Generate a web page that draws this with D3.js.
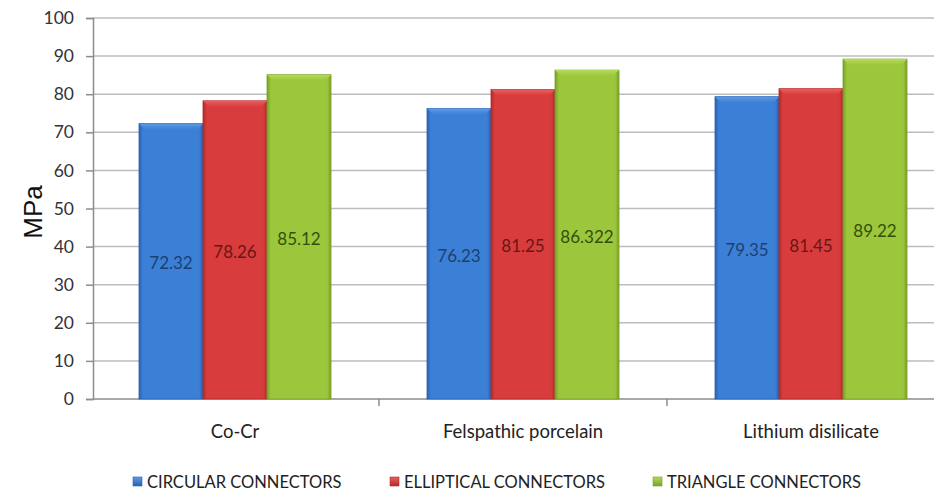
<!DOCTYPE html>
<html>
<head>
<meta charset="utf-8">
<script src="https://d3js.org/d3.v7.min.js"></script>
<style>
  body { margin: 0; background: #fff; }
  text { font-family: Lato, "Open Sans", sans-serif; }
</style>
</head>
<body>
<script>
// data
var categories = ["Co-Cr", "Felspathic porcelain", "Lithium disilicate"];
var seriesNames = ["CIRCULAR CONNECTORS", "ELLIPTICAL CONNECTORS", "TRIANGLE CONNECTORS"];
var circular = [72.32, 76.23, 79.35];
var elliptical = [78.26, 81.25, 81.45];
var triangle = [85.12, 86.322, 89.22];
var labels = [["72.32", "76.23", "79.35"], ["78.26", "81.25", "81.45"], ["85.12", "86.322", "89.22"]];
var yTicks = [0, 10, 20, 30, 40, 50, 60, 70, 80, 90, 100];

var series = [circular, elliptical, triangle];
var colors = [
  {light: "#5d9be6", mid: "#3b7fd6", dark: "#2a62b0", text: "#1d3f72"},
  {light: "#e86060", mid: "#d93c3c", dark: "#b22a2a", text: "#6a1616"},
  {light: "#b6da5a", mid: "#9cc63c", dark: "#78a028", text: "#33500c"}
];

var width = 934, height = 493;
var svg = d3.select("body").append("svg")
    .attr("width", width)
    .attr("height", height);

// bands run past the right edge, the picture is cropped there
var x0 = d3.scaleBand().domain(categories).range([91, 955]).padding(0);
var x1 = d3.scaleBand().domain(d3.range(3)).range([48, x0.bandwidth() - 48]).padding(0);
var y = d3.scaleLinear().domain([0, 100]).range([399, 18]);

var defs = svg.append("defs");
colors.forEach(function(c, i) {
  var g = defs.append("linearGradient").attr("id", "bar" + i).attr("x1", 0).attr("x2", 1).attr("y1", 0).attr("y2", 0);
  g.append("stop").attr("offset", "0%").attr("stop-color", c.dark);
  g.append("stop").attr("offset", "6%").attr("stop-color", c.mid);
  g.append("stop").attr("offset", "94%").attr("stop-color", c.mid);
  g.append("stop").attr("offset", "100%").attr("stop-color", c.dark);
  var t = defs.append("linearGradient").attr("id", "top" + i).attr("x1", 0).attr("x2", 0).attr("y1", 0).attr("y2", 1);
  t.append("stop").attr("offset", "0%").attr("stop-color", c.light);
  t.append("stop").attr("offset", "100%").attr("stop-color", c.mid);
  var l = defs.append("linearGradient").attr("id", "leg" + i).attr("x1", 0).attr("x2", 0).attr("y1", 0).attr("y2", 1);
  l.append("stop").attr("offset", "0%").attr("stop-color", c.light);
  l.append("stop").attr("offset", "100%").attr("stop-color", c.dark);
});

// gridlines
svg.append("g").selectAll("line").data(yTicks.filter(function(d) { return d > 0; })).join("line")
    .attr("x1", 93).attr("x2", width)
    .attr("y1", function(d) { return y(d); }).attr("y2", function(d) { return y(d); })
    .attr("stroke", "#bdbdbd").attr("stroke-width", 1.5);

// y axis
var yAxis = svg.append("g").attr("transform", "translate(93,0)")
    .call(d3.axisLeft(y).tickValues(yTicks).tickSize(7).tickPadding(12));
yAxis.select(".domain").attr("stroke", "#8c8c8c").attr("stroke-width", 1.5);
yAxis.selectAll(".tick line").attr("stroke", "#8c8c8c").attr("stroke-width", 1.5);
yAxis.selectAll("text").attr("fill", "#333").style("font-size", "17.5px");

// x axis
var xAxis = svg.append("g").attr("transform", "translate(0,399)")
    .call(d3.axisBottom(x0).tickSize(0).tickPadding(26));
xAxis.select(".domain").remove();
xAxis.selectAll("text").attr("fill", "#222").style("font-size", "18.5px");
svg.append("line").attr("x1", 93).attr("x2", width).attr("y1", 399).attr("y2", 399)
    .attr("stroke", "#8c8c8c").attr("stroke-width", 1.5);
svg.append("g").selectAll("line").data(categories.slice(1)).join("line")
    .attr("x1", function(d) { return x0(d); }).attr("x2", function(d) { return x0(d); })
    .attr("y1", 399).attr("y2", 406)
    .attr("stroke", "#8c8c8c").attr("stroke-width", 1.5);

// bars
series.forEach(function(vals, si) {
  var g = svg.append("g");
  var bars = g.selectAll("g").data(vals).join("g")
      .attr("transform", function(d, i) { return "translate(" + (x0(categories[i]) + x1(si)) + ",0)"; });
  var bw = x1.bandwidth();
  bars.append("rect")
      .attr("x", 0).attr("width", bw)
      .attr("y", function(d) { return y(d); })
      .attr("height", function(d) { return y(0) - y(d); })
      .attr("fill", "url(#bar" + si + ")")
      .attr("stroke", colors[si].dark).attr("stroke-width", 0.8);
  bars.append("path")
      .attr("d", function(d) {
        var t = y(d);
        return "M0," + t + "L" + bw + "," + t + "L" + (bw - 6) + "," + (t + 6) + "L6," + (t + 6) + "Z";
      })
      .attr("fill", "url(#top" + si + ")");
  bars.append("text")
      .attr("x", bw / 2)
      .attr("y", function(d) { return (y(d) + y(0)) / 2 + 8; })
      .attr("text-anchor", "middle")
      .attr("fill", colors[si].text)
      .style("font-size", "17px")
      .text(function(d, i) { return labels[si][i]; });
});

// y title
svg.append("text")
    .attr("transform", "translate(42,212) rotate(-90)")
    .attr("text-anchor", "middle")
    .style("font-family", "'Liberation Sans', Arial, sans-serif")
    .style("font-size", "26px")
    .attr("fill", "#111")
    .text("MPa");

// legend
var legX = [133, 390, 653];
var leg = svg.append("g").selectAll("g").data(seriesNames).join("g")
    .attr("transform", function(d, i) { return "translate(" + legX[i] + ",488)"; });
leg.append("rect").attr("x", 0).attr("y", -11).attr("width", 9).attr("height", 9)
    .attr("fill", function(d, i) { return "url(#leg" + i + ")"; })
    .attr("stroke", function(d, i) { return colors[i].dark; }).attr("stroke-width", 0.6);
leg.append("text").attr("x", 14).attr("y", 0)
    .attr("fill", "#222").style("font-size", "16.5px")
    .text(function(d) { return d; });
</script>
</body>
</html>
